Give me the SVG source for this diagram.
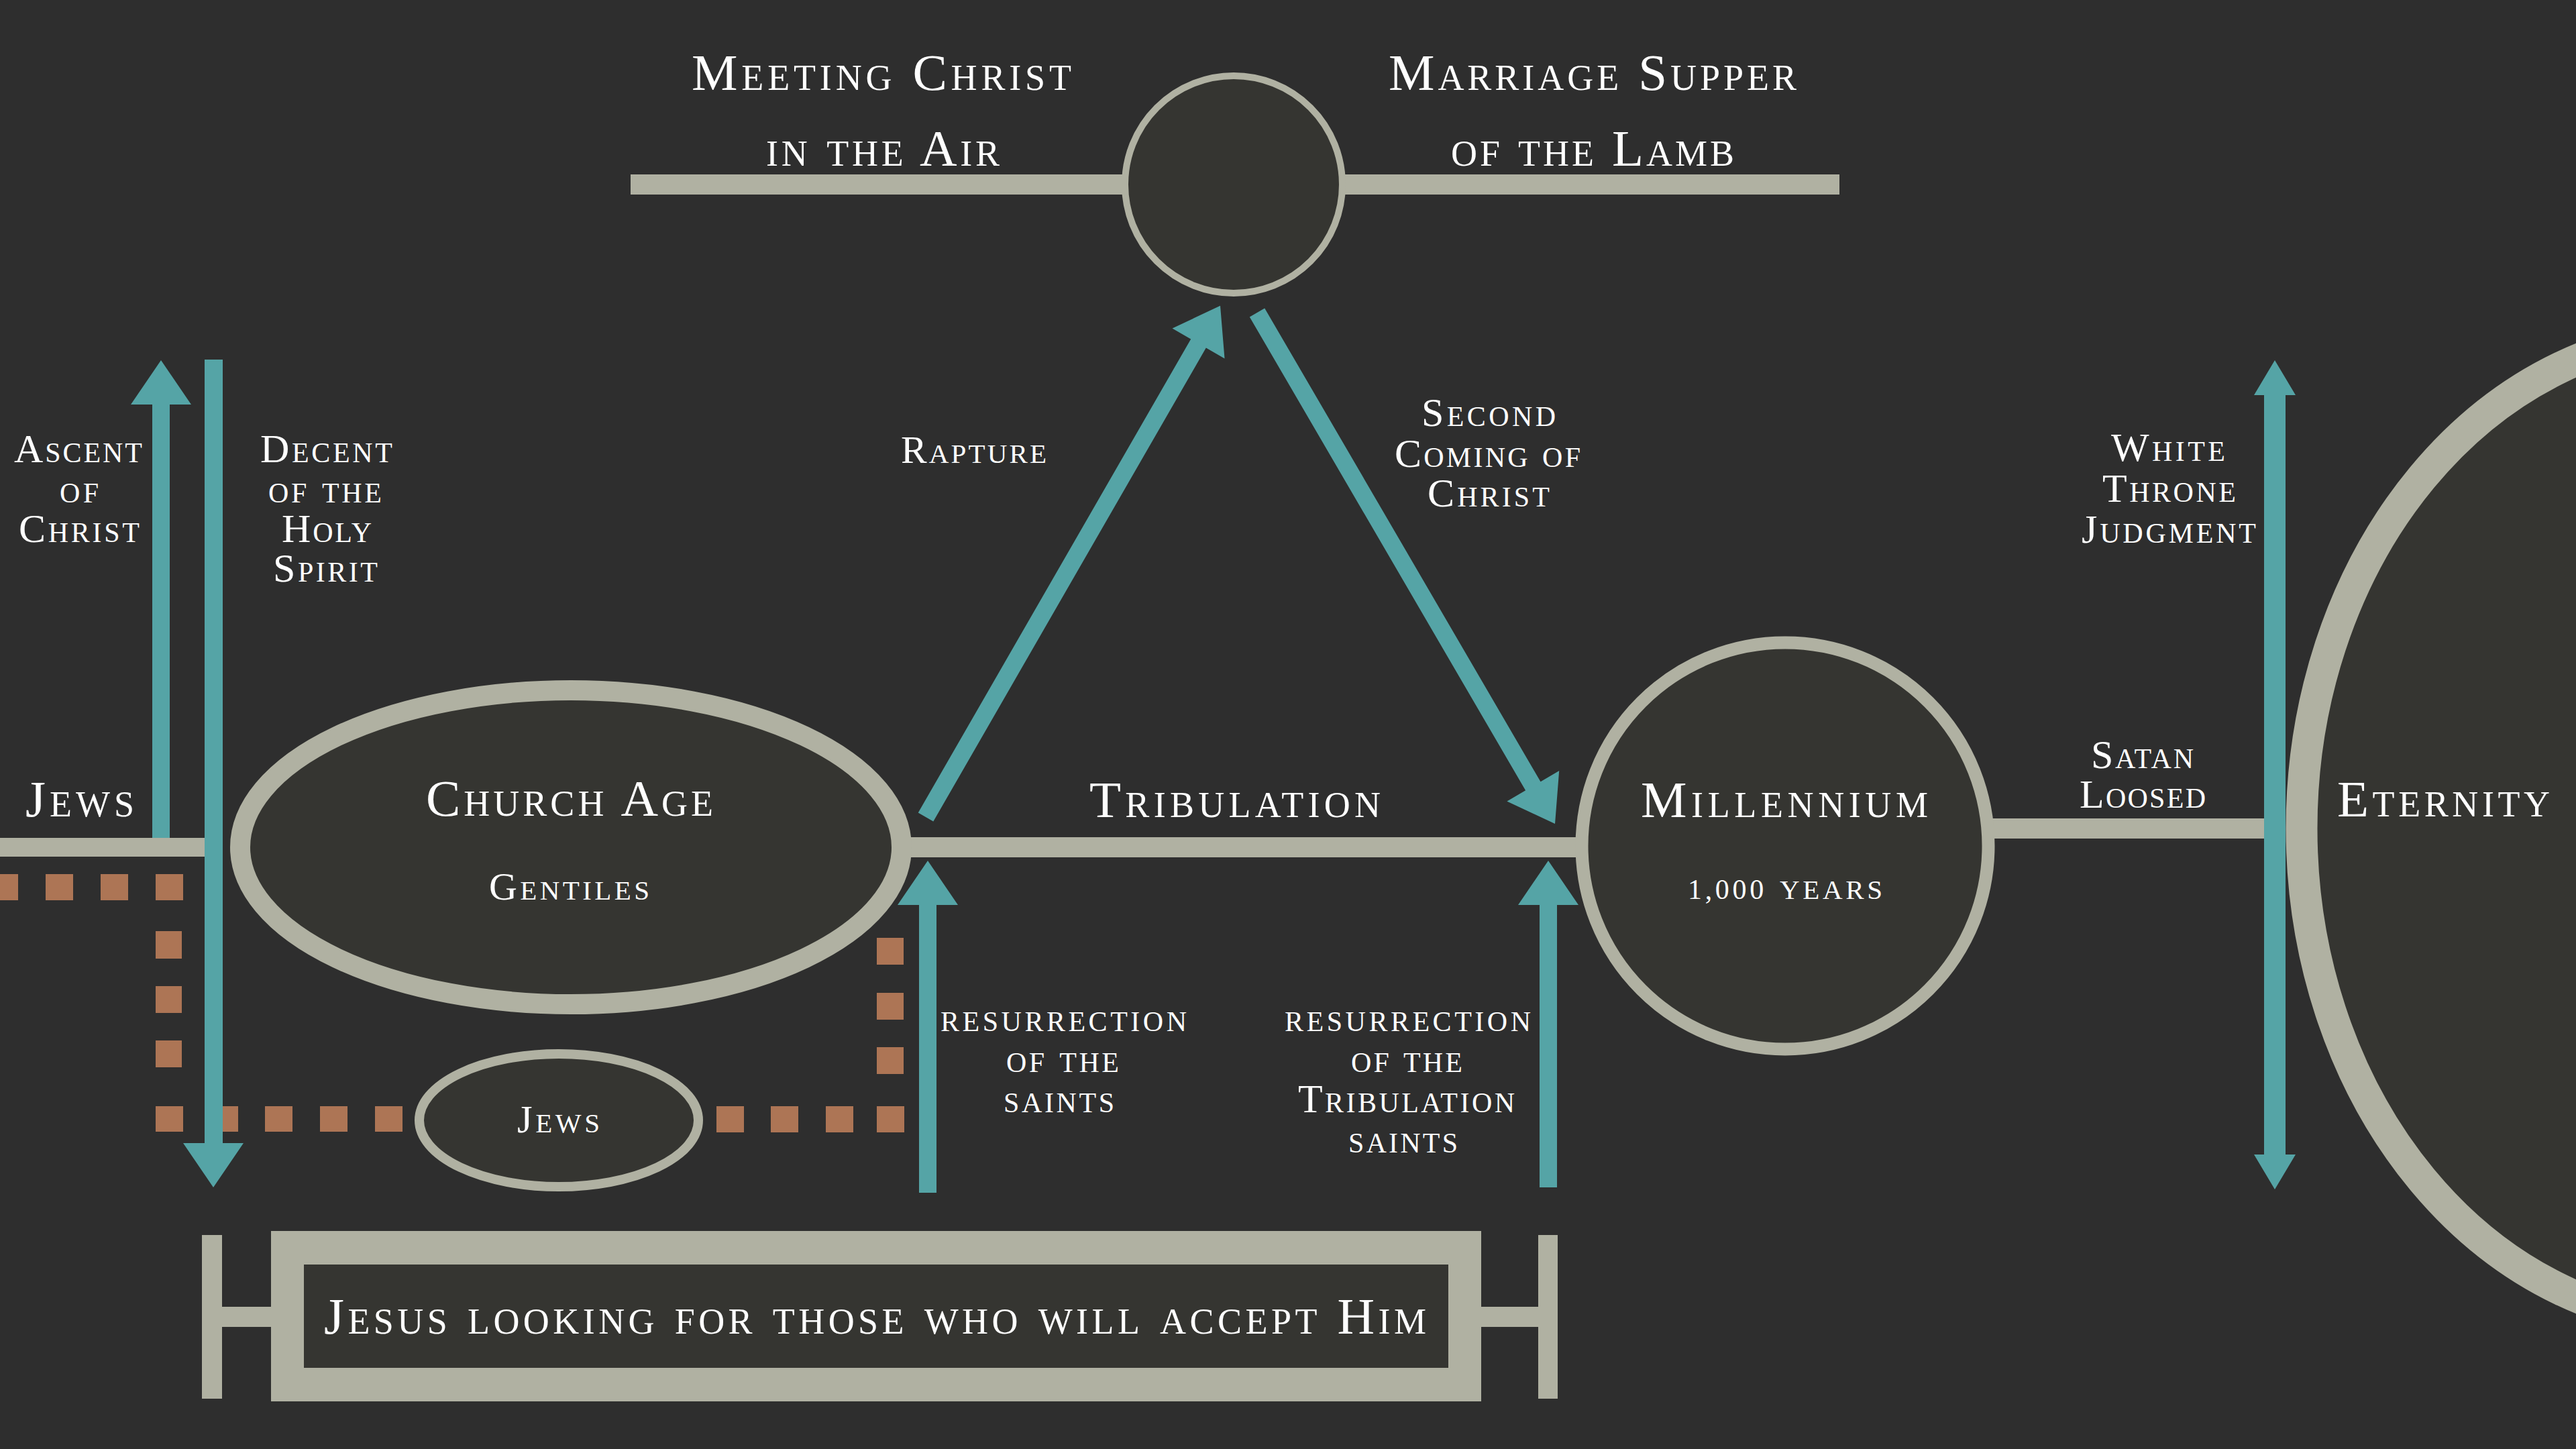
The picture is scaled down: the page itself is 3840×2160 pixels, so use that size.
<svg xmlns="http://www.w3.org/2000/svg" width="3840" height="2160" viewBox="0 0 3840 2160">
<style>
.bg{fill:#2e2e2e}
.bar{fill:#b0b1a2}
.node{fill:#353531;stroke:#b0b1a2}
.teal{fill:#55a4a6}
.dash{fill:#ad7555}
text{font-family:"Liberation Serif","Times New Roman",serif;font-variant:small-caps;fill:#ffffff}
.big{font-size:77px}
.mid{font-size:60px}
.sm{font-size:58px}
</style>
<rect class="bg" x="0" y="0" width="3840" height="2160"/>

<g id="timeline-lines">
<rect class="bar" x="940" y="260" width="1802" height="30"/>
<rect class="bar" x="0" y="1249" width="320" height="28"/>
<rect class="bar" x="1340" y="1248" width="1020" height="30"/>
<rect class="bar" x="2960" y="1220" width="431" height="30"/>
</g>

<g id="jews-path">
<rect class="dash" x="-14" y="1303" width="41" height="39"/>
<rect class="dash" x="68" y="1303" width="41" height="39"/>
<rect class="dash" x="150" y="1303" width="41" height="39"/>
<rect class="dash" x="232" y="1303" width="41" height="39"/>
<rect class="dash" x="232" y="1388" width="39" height="41"/>
<rect class="dash" x="232" y="1470" width="39" height="40"/>
<rect class="dash" x="232" y="1551" width="39" height="40"/>
<rect class="dash" x="232" y="1649" width="41" height="38"/>
<rect class="dash" x="314" y="1649" width="41" height="38"/>
<rect class="dash" x="395" y="1649" width="41" height="38"/>
<rect class="dash" x="477" y="1649" width="41" height="38"/>
<rect class="dash" x="559" y="1649" width="41" height="38"/>
<rect class="dash" x="1068" y="1649" width="41" height="39"/>
<rect class="dash" x="1149" y="1649" width="41" height="39"/>
<rect class="dash" x="1231" y="1649" width="41" height="39"/>
<rect class="dash" x="1307" y="1649" width="41" height="39"/>
<rect class="dash" x="1307" y="1561" width="40" height="40"/>
<rect class="dash" x="1307" y="1480" width="40" height="40"/>
<rect class="dash" x="1307" y="1398" width="40" height="40"/>
</g>

<g id="node-air">
<circle class="node" cx="1839" cy="275" r="162" stroke-width="10"/>
</g>
<g id="node-church-age">
<ellipse class="node" cx="851" cy="1263" rx="493" ry="234" stroke-width="30"/>
<text class="big" x="635" y="1216" textLength="428">Church Age</text>
<text class="sm" x="729" y="1341" textLength="239">Gentiles</text>
</g>
<g id="node-jews">
<ellipse class="node" cx="833" cy="1670" rx="208" ry="99" stroke-width="14"/>
<text class="sm" x="771" y="1688" textLength="123">Jews</text>
</g>
<g id="node-millennium">
<circle class="node" cx="2661" cy="1261" r="303" stroke-width="19"/>
<text class="big" x="2446" y="1218" textLength="428">Millennium</text>
<text class="sm" x="2516" y="1340" textLength="290"><tspan font-size="42">1,000</tspan> years</text>
</g>
<g id="node-eternity">
<ellipse class="node" cx="4044" cy="1235" rx="613" ry="740" stroke-width="47"/>
<text class="big" x="3484" y="1217" textLength="317">Eternity</text>
</g>

<g id="node-banner">
<rect class="bar" x="301" y="1841" width="30" height="244"/>
<rect class="bar" x="331" y="1948" width="73" height="30"/>
<rect class="bar" x="2293" y="1841" width="29" height="244"/>
<rect class="bar" x="2208" y="1948" width="85" height="30"/>
<rect class="bar" x="404" y="1835" width="1804" height="254"/>
<rect fill="#353531" x="453" y="1885" width="1706" height="154"/>
<text class="big" x="483" y="1988" textLength="1643">Jesus looking for those who will accept Him</text>
</g>

<g id="connectors">
<polygon class="teal" points="227,1249 227,603 195,603 240,537 285,603 253,603 253,1249"/>
<polygon class="teal" points="305,536 332,536 332,1704 363,1704 318,1770 273,1704 305,1704"/>
<polygon class="teal" points="1370,1778 1370,1349 1338,1349 1383,1283 1428,1349 1396,1349 1396,1778"/>
<polygon class="teal" points="2295,1770 2295,1349 2263,1349 2308,1283 2353,1349 2321,1349 2321,1770"/>
<polygon class="teal" points="1368.7,1211.5 1775.2,505.5 1747.5,489.5 1819,455.7 1825.5,534.5 1797.8,518.5 1391.3,1224.5"/>
<polygon class="teal" points="1862.8,472.5 1885.2,459.5 2296.5,1165.3 2324.2,1149.1 2318,1228 2246.4,1194.5 2274.1,1178.3"/>
<polygon class="teal" points="3375,589 3360,589 3391,537 3422,589 3407,589 3407,1721 3422,1721 3391,1773 3360,1721 3375,1721"/>
</g>

<g id="labels">
<text class="big" x="1031" y="134" textLength="566">Meeting Christ</text>
<text class="big" x="1142" y="247" textLength="348">in the Air</text>
<text class="big" x="2070" y="134" textLength="608">Marriage Supper</text>
<text class="big" x="2163" y="247" textLength="422">of the Lamb</text>
<text class="mid" x="21" y="689" textLength="191">Ascent</text>
<text class="mid" x="89" y="749" textLength="58">of</text>
<text class="mid" x="28" y="808" textLength="180">Christ</text>
<text class="mid" x="388" y="689" textLength="197">Decent</text>
<text class="mid" x="400" y="749" textLength="169">of the</text>
<text class="mid" x="420" y="808" textLength="134">Holy</text>
<text class="mid" x="407" y="867" textLength="156">Spirit</text>
<text class="big" x="38" y="1217" textLength="162">Jews</text>
<text class="sm" x="1343" y="690" textLength="217">Rapture</text>
<text class="mid" x="2119" y="635" textLength="200">Second</text>
<text class="mid" x="2079" y="696" textLength="277">Coming of</text>
<text class="mid" x="2128" y="755" textLength="182">Christ</text>
<text class="big" x="1624" y="1218" textLength="434">Tribulation</text>
<text class="mid" x="1402" y="1537" textLength="367">resurrection</text>
<text class="mid" x="1500" y="1598" textLength="168">of the</text>
<text class="mid" x="1496" y="1658" textLength="165">saints</text>
<text class="mid" x="1915" y="1537" textLength="367">resurrection</text>
<text class="mid" x="2014" y="1598" textLength="166">of the</text>
<text class="mid" x="1935" y="1658" textLength="323">Tribulation</text>
<text class="mid" x="2010" y="1718" textLength="163">saints</text>
<text class="mid" x="3147" y="687" textLength="170">White</text>
<text class="mid" x="3134" y="748" textLength="199">Throne</text>
<text class="mid" x="3103" y="809" textLength="260">Judgment</text>
<text class="mid" x="3117" y="1145" textLength="153">Satan</text>
<text class="mid" x="3100" y="1204" textLength="188">Loosed</text>
</g>
</svg>
